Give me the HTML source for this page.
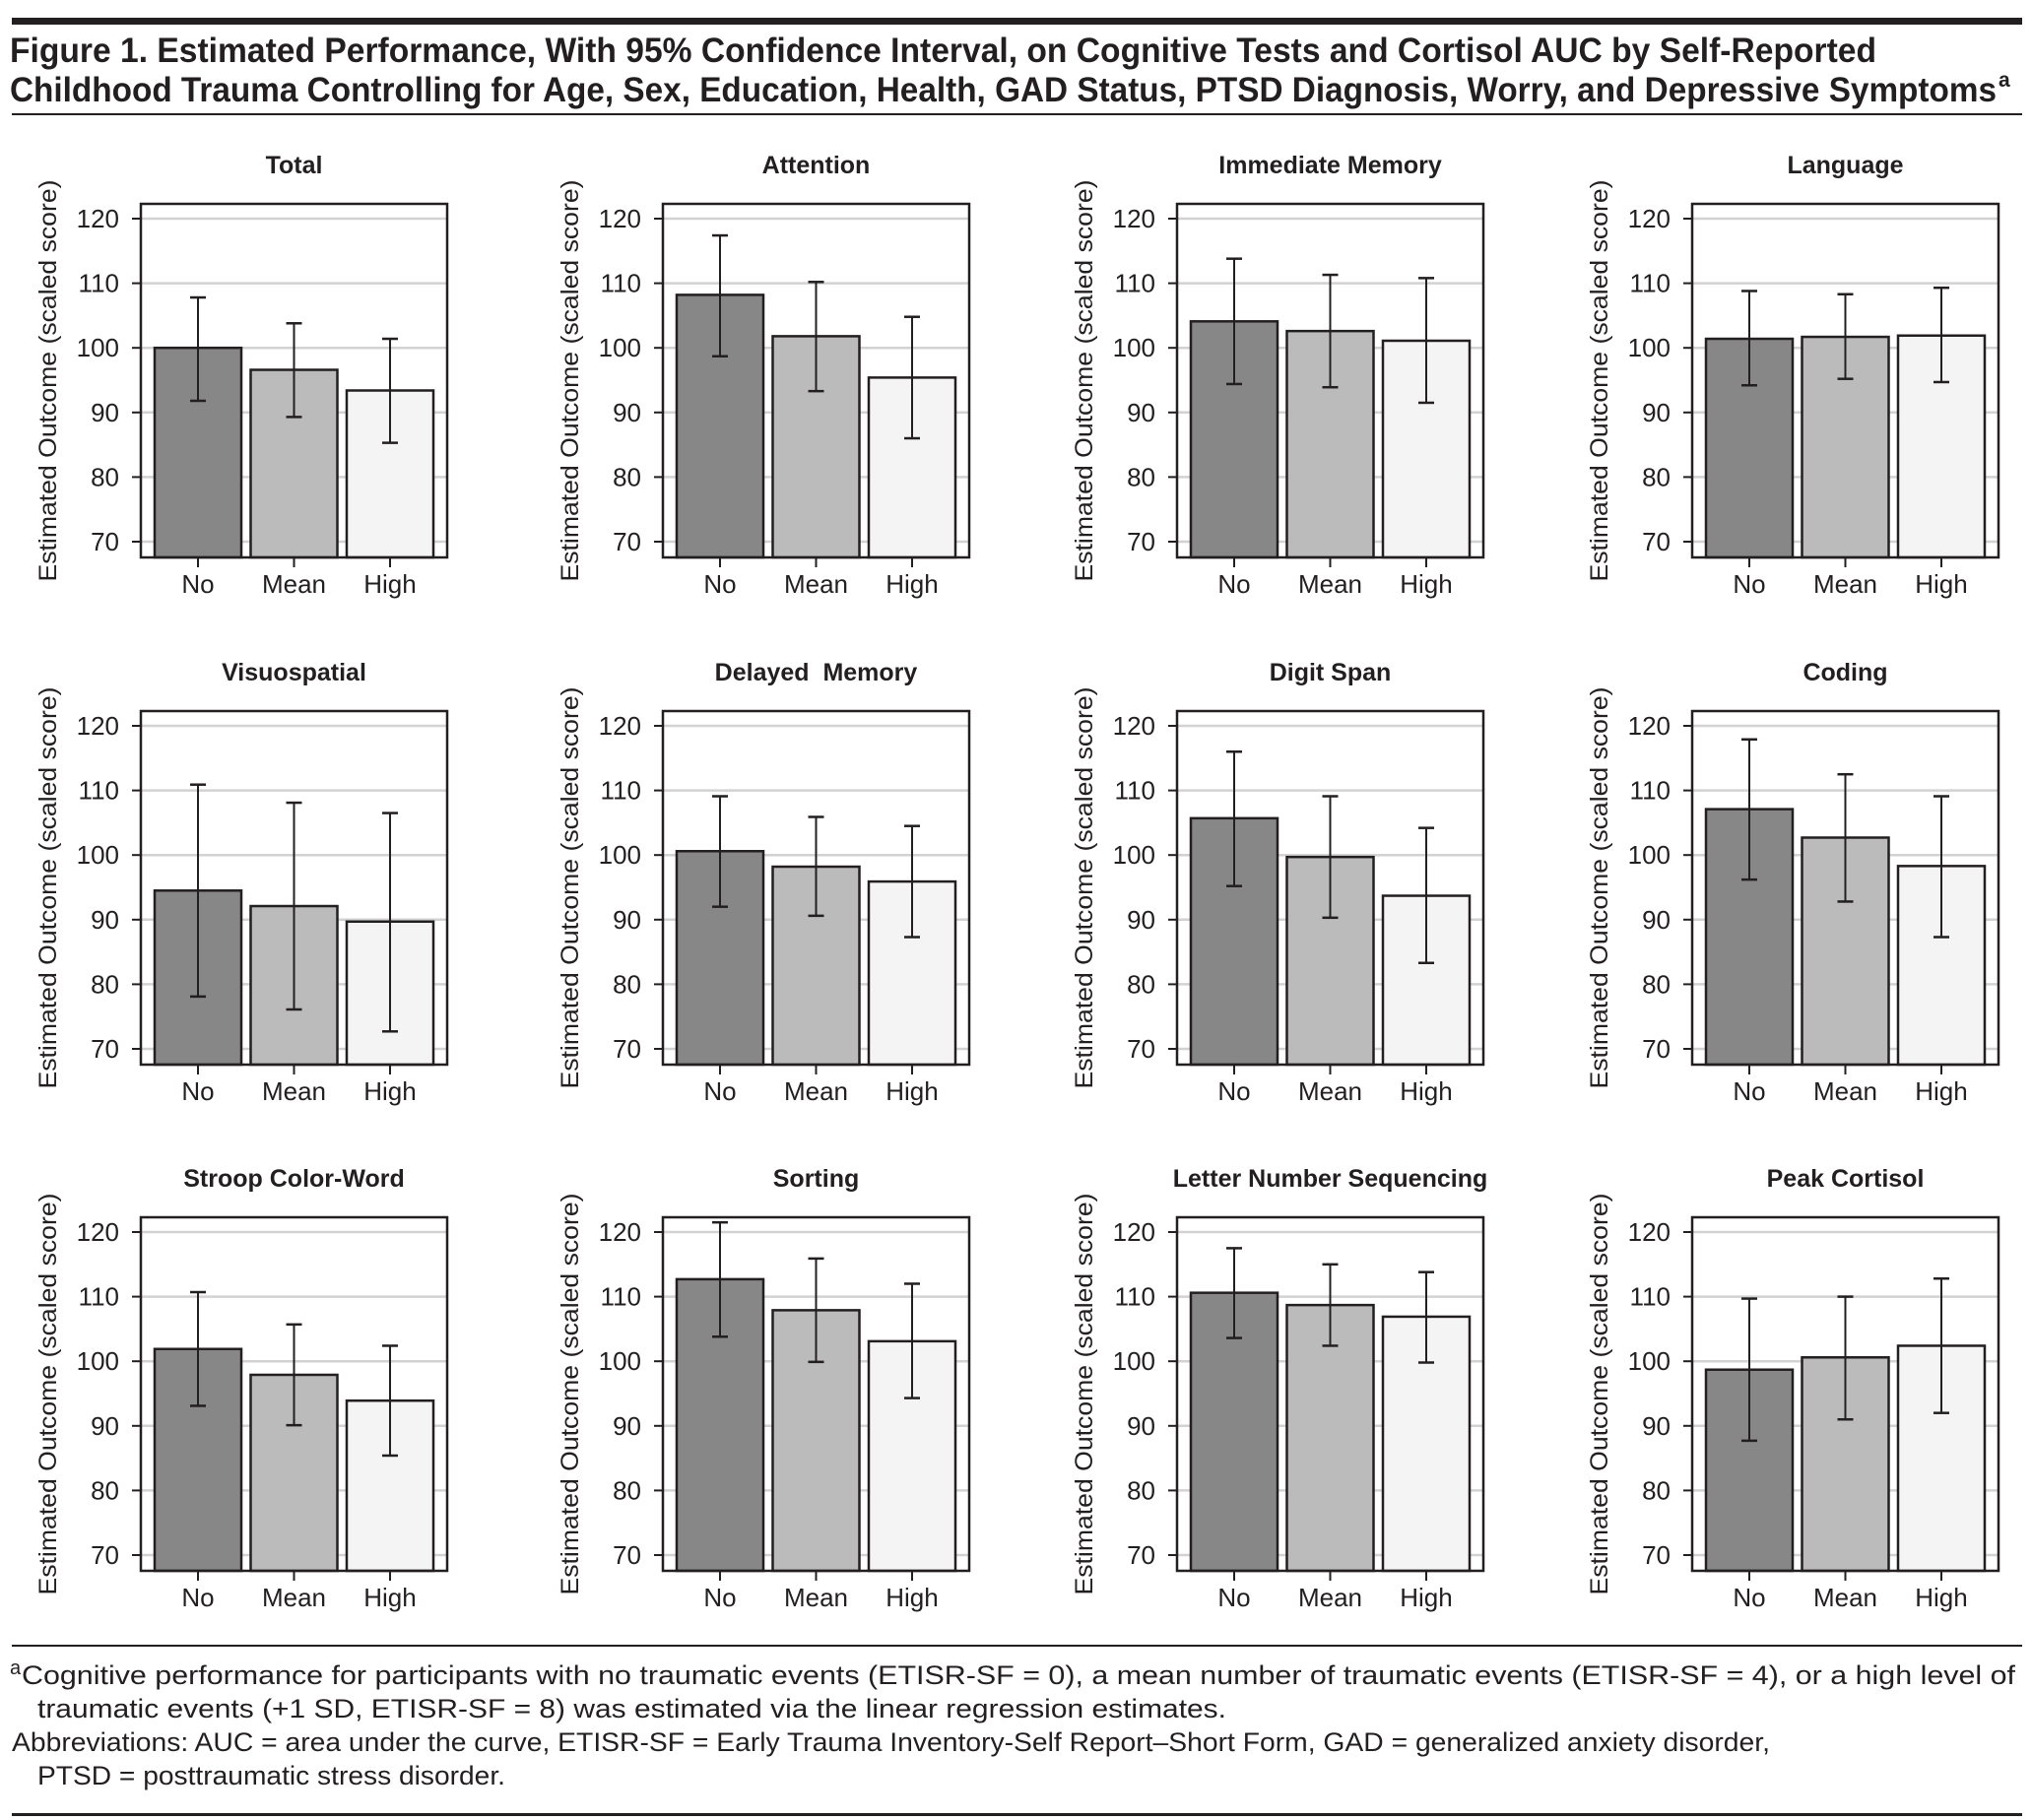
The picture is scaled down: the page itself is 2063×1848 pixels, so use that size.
<!DOCTYPE html>
<html><head><meta charset="utf-8">
<style>
html,body{margin:0;padding:0;background:#fff;}
svg{display:block;}
text{font-family:"Liberation Sans",sans-serif;fill:#231f20;}
</style></head>
<body>
<svg id="s" width="2063" height="1848" viewBox="0 0 2063 1848" xmlns="http://www.w3.org/2000/svg">
<rect x="0" y="0" width="2063" height="1848" fill="#fff"/>
<rect x="12" y="18" width="2041" height="7" fill="#231f20"/>
<text x="10" y="63" font-size="35" font-weight="bold" textLength="1895" lengthAdjust="spacingAndGlyphs">Figure 1. Estimated Performance, With 95% Confidence Interval, on Cognitive Tests and Cortisol AUC by Self-Reported</text>
<text x="10" y="103" font-size="35" font-weight="bold" textLength="2017" lengthAdjust="spacingAndGlyphs">Childhood Trauma Controlling for Age, Sex, Education, Health, GAD Status, PTSD Diagnosis, Worry, and Depressive Symptoms</text>
<text x="2029" y="88" font-size="21" font-weight="bold">a</text>
<rect x="12" y="115" width="2041" height="2" fill="#231f20"/>
<g id="charts"></g>
<rect x="12" y="1670" width="2041" height="2" fill="#231f20"/>
<text x="10" y="1700" font-size="20">a</text>
<text x="22" y="1710" font-size="27" textLength="2024" lengthAdjust="spacingAndGlyphs">Cognitive performance for participants with no traumatic events (ETISR-SF = 0), a mean number of traumatic events (ETISR-SF = 4), or a high level of</text>
<text x="38" y="1744" font-size="27" textLength="1207" lengthAdjust="spacingAndGlyphs">traumatic events (+1 SD, ETISR-SF = 8) was estimated via the linear regression estimates.</text>
<text x="12" y="1778" font-size="27" textLength="1785" lengthAdjust="spacingAndGlyphs">Abbreviations: AUC = area under the curve, ETISR-SF = Early Trauma Inventory-Self Report–Short Form, GAD = generalized anxiety disorder,</text>
<text x="38" y="1812" font-size="27" textLength="475" lengthAdjust="spacingAndGlyphs">PTSD = posttraumatic stress disorder.</text>
<rect x="12" y="1841" width="2041" height="3" fill="#231f20"/>
</svg>
<script>
(function(){
var D=[
["Total",[100,96.6,93.4],[[107.8,91.8],[103.8,89.3],[101.4,85.3]]],
["Attention",[108.2,101.8,95.4],[[117.4,98.7],[110.2,93.3],[104.8,86.0]]],
["Immediate Memory",[104.1,102.6,101.1],[[113.8,94.4],[111.3,93.9],[110.8,91.5]]],
["Language",[101.4,101.7,101.9],[[108.8,94.2],[108.3,95.2],[109.3,94.7]]],
["Visuospatial",[94.5,92.1,89.7],[[110.9,78.1],[108.1,76.1],[106.5,72.7]]],
["Delayed  Memory",[100.6,98.2,95.9],[[109.1,92.0],[105.9,90.6],[104.5,87.3]]],
["Digit Span",[105.7,99.7,93.7],[[116.0,95.2],[109.1,90.3],[104.2,83.3]]],
["Coding",[107.1,102.7,98.3],[[117.9,96.2],[112.5,92.8],[109.1,87.3]]],
["Stroop Color-Word",[101.9,97.9,93.9],[[110.7,93.1],[105.7,90.1],[102.4,85.4]]],
["Sorting",[112.7,107.9,103.1],[[121.5,103.8],[115.9,99.9],[112.0,94.3]]],
["Letter Number Sequencing",[110.6,108.7,106.9],[[117.5,103.6],[115.0,102.4],[113.8,99.8]]],
["Peak Cortisol",[98.7,100.6,102.4],[[109.7,87.7],[110.0,91.0],[112.8,92.0]]]
];
var cols=[143,673,1195,1718], rows=[0,515,1029];
var fills=["#878787","#bbbbbb","#f4f4f4"], labs=["No","Mean","High"];
var h="";
for(var i=0;i<12;i++){
 var L=cols[i%4], off=rows[Math.floor(i/4)], W=311;
 var tp=207+off, bt=566+off;
 var Y=function(v){return 222+off+(120-v)*6.56;};
 var d=D[i];
 h+='<text x="'+(L+W/2)+'" y="'+(176+off)+'" font-size="25" font-weight="bold" text-anchor="middle">'+d[0].replace(/ /g,'&#160;')+'</text>';
 h+='<rect x="'+L+'" y="'+tp+'" width="'+W+'" height="'+(bt-tp)+'" fill="#fff"/>';
 for(var t=70;t<=120;t+=10){var y=Y(t);
  h+='<line x1="'+L+'" x2="'+(L+W)+'" y1="'+y+'" y2="'+y+'" stroke="#d2d2d2" stroke-width="2.5"/>';
  h+='<line x1="'+(L-9)+'" x2="'+L+'" y1="'+y+'" y2="'+y+'" stroke="#231f20" stroke-width="2"/>';
  h+='<text x="'+(L-22)+'" y="'+(y+9)+'" font-size="26" text-anchor="end">'+t+'</text>';}
 for(var b=0;b<3;b++){
  var bx=L+14+b*97.5, c=bx+44, by=Y(d[1][b]);
  h+='<rect x="'+bx+'" y="'+by+'" width="88" height="'+(bt-by)+'" fill="'+fills[b]+'" stroke="#231f20" stroke-width="2.5"/>';
  var y1=Y(d[2][b][0]), y2=Y(d[2][b][1]);
  h+='<line x1="'+c+'" x2="'+c+'" y1="'+y1+'" y2="'+y2+'" stroke="#231f20" stroke-width="2"/>';
  h+='<line x1="'+(c-8)+'" x2="'+(c+8)+'" y1="'+y1+'" y2="'+y1+'" stroke="#231f20" stroke-width="2.5"/>';
  h+='<line x1="'+(c-8)+'" x2="'+(c+8)+'" y1="'+y2+'" y2="'+y2+'" stroke="#231f20" stroke-width="2.5"/>';
  h+='<line x1="'+c+'" x2="'+c+'" y1="'+bt+'" y2="'+(bt+10)+'" stroke="#231f20" stroke-width="2"/>';
  h+='<text x="'+c+'" y="'+(602+off)+'" font-size="26" text-anchor="middle">'+labs[b]+'</text>';
 }
 h+='<rect x="'+L+'" y="'+tp+'" width="'+W+'" height="'+(bt-tp)+'" fill="none" stroke="#231f20" stroke-width="2.5"/>';
 var cx=L-86, cy=(tp+bt)/2;
 h+='<text transform="translate('+cx+','+cy+') rotate(-90)" x="0" y="0" font-size="25" text-anchor="middle" textLength="408" lengthAdjust="spacingAndGlyphs">Estimated Outcome (scaled score)</text>';
}
document.getElementById("charts").innerHTML=h;
})();
</script>
</body></html>
